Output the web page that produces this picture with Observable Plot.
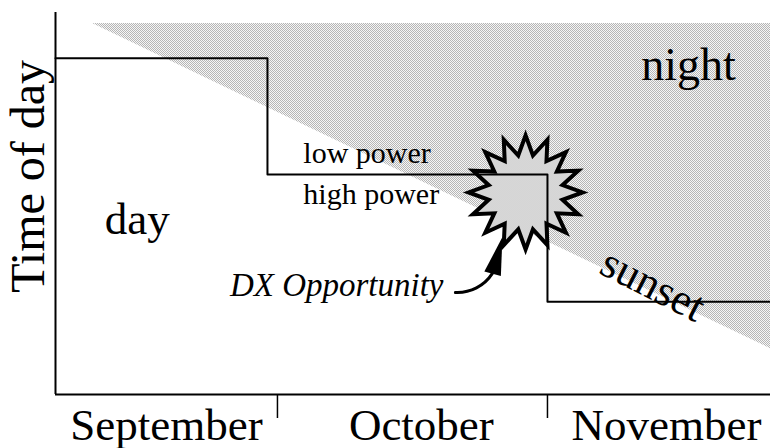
<!DOCTYPE html>
<html><head><meta charset="utf-8">
<script src="https://cdn.jsdelivr.net/npm/d3@7"></script>
<script src="https://cdn.jsdelivr.net/npm/@observablehq/plot@0.6"></script>
<style>body{margin:0;background:#fff} #chart{width:770px;height:448px}</style>
</head><body><div id="chart"></div>
<script>
// x in months since the start of September, y in arbitrary time-of-day units
const monthBoundaries = [1, 2];
const monthNames = ["September", "October", "November"];
const monthLabelX = [0.589, 1.533, 2.441];
const powerStepX = [0.178, 0.963, 2.0, 2.826];
const powerStepY = [8.80, 5.76, 2.43, 2.43];
const sunsetX = [0.315, 2.826];
const sunsetY = [9.71, 1.20];
const nightTopY = 9.71;
const dxPoint = {x: 1.919, y: 5.29};
const arrowStart = {x: 1.659, y: 2.67};
const arrowEnd = {x: 1.796, y: 3.17};
const arrowHeadPos = {x: 1.815, y: 3.64};

const xDomain = [0.178, 2.826];
const yDomain = [0, 10];
const serif = "'Liberation Serif','Times New Roman',Times,serif";

const steps = powerStepX.map((x, i) => ({x, y: powerStepY[i]}));
const night = sunsetX.map((x, i) => ({x, y1: sunsetY[i], y2: nightTopY}));

const starburst = {
  draw(ctx, size) {
    const R = Math.sqrt(size / Math.PI), n = 16, ri = R * 0.66;
    for (let i = 0; i < 2 * n; i++) {
      const a = -Math.PI / 2 + i * Math.PI / n;
      const r = i % 2 ? ri : R;
      const px = r * Math.cos(a), py = r * Math.sin(a);
      if (i) ctx.lineTo(px, py); else ctx.moveTo(px, py);
    }
    ctx.closePath();
  }
};
const arrowHead = {
  draw(ctx, size) {
    const R = Math.sqrt(size / Math.PI);
    ctx.moveTo(0, -R); ctx.lineTo(0.45 * R, R); ctx.lineTo(-0.45 * R, R); ctx.closePath();
  }
};

const plot = Plot.plot({
  width: 770, height: 448,
  marginLeft: 55, marginRight: 0, marginTop: 12, marginBottom: 54,
  style: {fontFamily: serif, background: "#fff", color: "#000", overflow: "visible"},
  x: {domain: xDomain, axis: null, label: null},
  y: {domain: yDomain, axis: null, label: null},
  marks: [
    Plot.areaY(night, {x: "x", y1: "y1", y2: "y2", fill: "url(#stipple)"}),
    Plot.dot([dxPoint], {x: "x", y: "y", r: 57, symbol: starburst, fill: "url(#stipple)", stroke: "#000", strokeWidth: 4, strokeLinejoin: "miter"}),
    Plot.line(steps, {x: "x", y: "y", curve: "step-after", stroke: "#000", strokeWidth: 2}),
    Plot.ruleX([xDomain[0]], {y1: yDomain[0], y2: yDomain[1], stroke: "#000", strokeWidth: 2}),
    Plot.ruleY([yDomain[0]], {x1: xDomain[0], x2: xDomain[1], stroke: "#000", strokeWidth: 2}),
    Plot.axisX(monthBoundaries, {tickSize: 24, tickFormat: () => "", stroke: "#000", strokeWidth: 1.5}),
    Plot.text(monthNames, {x: (d, i) => monthLabelX[i], text: d => d, frameAnchor: "bottom", dy: 45, lineAnchor: "bottom", fontSize: 45, fill: "#000"}),
    Plot.text(["Time of day"], {y: 5.71, text: d => d, frameAnchor: "left", textAnchor: "middle", dx: -12, rotate: -90, lineAnchor: "bottom", fontSize: 48, fill: "#000"}),
    Plot.text(["night"], {x: 2.522, y: 8.22, text: d => d, lineAnchor: "bottom", fontSize: 46, fill: "#000"}),
    Plot.text(["day"], {x: 0.481, y: 4.21, text: d => d, lineAnchor: "bottom", fontSize: 45, fill: "#000"}),
    Plot.text(["low power"], {x: 1.096, y: 6.05, text: d => d, textAnchor: "start", lineAnchor: "bottom", fontSize: 30, fill: "#000"}),
    Plot.text(["high power"], {x: 1.096, y: 5.00, text: d => d, textAnchor: "start", lineAnchor: "bottom", fontSize: 30, fill: "#000"}),
    Plot.text(["DX Opportunity"], {x: 1.615, y: 2.59, text: d => d, textAnchor: "end", lineAnchor: "bottom", fontSize: 33, fontStyle: "italic", fill: "#000"}),
    Plot.text(["sunset"], {x: 2.367, y: 2.54, text: d => d, rotate: 27, lineAnchor: "bottom", fontSize: 44, fill: "#000"}),
    Plot.arrow([{x1: arrowStart.x, y1: arrowStart.y, x2: arrowEnd.x, y2: arrowEnd.y}], {x1: "x1", y1: "y1", x2: "x2", y2: "y2", bend: -30, headLength: 0, stroke: "#000", strokeWidth: 3}),
    Plot.dot([arrowHeadPos], {x: "x", y: "y", r: 19, symbol: arrowHead, fill: "#000", stroke: "none", rotate: 15})
  ]
});

const svg = d3.select(plot);
const defs = svg.insert("defs", ":first-child");
const pat = defs.append("pattern").attr("id", "stipple").attr("patternUnits", "userSpaceOnUse").attr("width", 2).attr("height", 2);
pat.append("rect").attr("width", 2).attr("height", 2).attr("fill", "#f6f6f6").attr("shape-rendering", "crispEdges");
pat.append("rect").attr("width", 1).attr("height", 1).attr("fill", "#b6b6b6").attr("shape-rendering", "crispEdges");
pat.append("rect").attr("x", 1).attr("y", 1).attr("width", 1).attr("height", 1).attr("fill", "#b6b6b6").attr("shape-rendering", "crispEdges");

document.getElementById("chart").appendChild(plot);
</script>
</body></html>
